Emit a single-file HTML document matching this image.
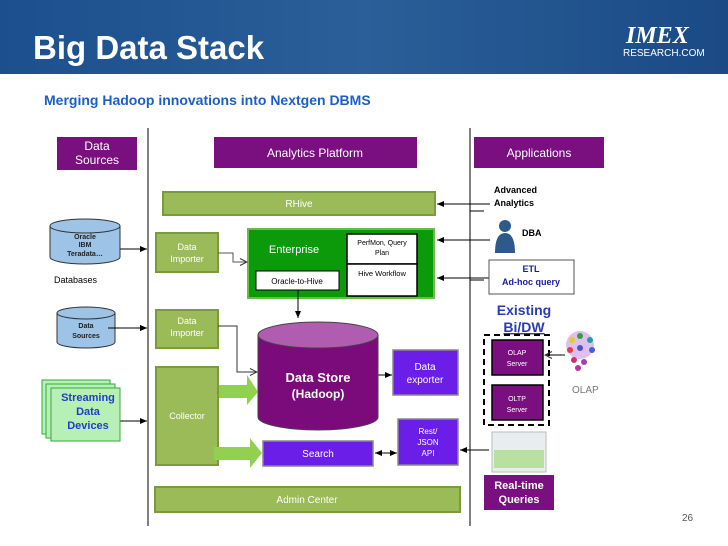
<!DOCTYPE html>
<html><head><meta charset="utf-8"><style>
body{margin:0;width:728px;height:546px;overflow:hidden;background:#fff}
svg{display:block}
text{font-family:"Liberation Sans",sans-serif}
</style></head><body>
<svg width="728" height="546" viewBox="0 0 728 546" xmlns="http://www.w3.org/2000/svg">
<defs>
<linearGradient id="hd" x1="0" x2="1" y1="0" y2="0">
<stop offset="0" stop-color="#1c4f8e"/><stop offset="0.5" stop-color="#2a5f98"/><stop offset="1" stop-color="#1b4a85"/></linearGradient>
<marker id="a" markerWidth="8" markerHeight="8" refX="7" refY="4" orient="auto"><path d="M0,1 L7,4 L0,7z" fill="#000"/></marker>
<marker id="o" markerWidth="9" markerHeight="9" refX="8" refY="4.5" orient="auto"><path d="M1,1 L8,4.5 L1,8" fill="none" stroke="#333"/></marker>
</defs>
<rect x="0" y="0" width="728" height="74" fill="url(#hd)"/>
<text x="33" y="59" font-size="33" font-weight="bold" fill="#fff">Big Data Stack</text>
<text x="626" y="43" font-size="24" font-weight="bold" font-style="italic" fill="#fff" style="font-family:'Liberation Serif',serif">IMEX</text>
<text x="623" y="56" font-size="10" fill="#fff">RESEARCH.COM</text>
<text x="44" y="105" font-size="14" font-weight="bold" fill="#1a5fc8">Merging Hadoop innovations into Nextgen DBMS</text>

<line x1="148" y1="128" x2="148" y2="526" stroke="#000"/>
<line x1="470" y1="128" x2="470" y2="526" stroke="#000"/>

<g font-size="12" fill="#fff" text-anchor="middle">
<rect x="57" y="137" width="80" height="33" fill="#7a0f7f"/>
<text x="97" y="150">Data</text><text x="97" y="164">Sources</text>
<rect x="214" y="137" width="203" height="31" fill="#7a0f7f"/>
<text x="315" y="157">Analytics Platform</text>
<rect x="474" y="137" width="130" height="31" fill="#7a0f7f"/>
<text x="539" y="157">Applications</text>
</g>

<g stroke="#7a9a3d" stroke-width="2" fill="#9bbb59">
<rect x="163" y="192" width="272" height="23"/>
<rect x="156" y="233" width="62" height="39"/>
<rect x="156" y="310" width="62" height="38"/>
<rect x="156" y="367" width="62" height="98"/>
<rect x="155" y="487" width="305" height="25"/>
</g>
<g font-size="9" fill="#fff" text-anchor="middle">
<text x="299" y="207" font-size="10">RHive</text>
<text x="187" y="250">Data</text><text x="187" y="262">Importer</text>
<text x="187" y="324">Data</text><text x="187" y="336">Importer</text>
<text x="187" y="419">Collector</text>
<text x="307" y="503" font-size="10">Admin Center</text>
</g>

<rect x="248" y="229" width="186" height="69" fill="#0a9a0a" stroke="#6cbb4a" stroke-width="2"/>
<text x="294" y="253" font-size="11" fill="#fff" text-anchor="middle">Enterprise</text>
<rect x="256" y="271" width="83" height="19" fill="#fff" stroke="#000"/>
<text x="297" y="284" font-size="8" text-anchor="middle">Oracle-to-Hive</text>
<rect x="347" y="234" width="70" height="30" fill="#fff" stroke="#000" stroke-width="1.5"/>
<rect x="347" y="264" width="70" height="32" fill="#fff" stroke="#000" stroke-width="1.5"/>
<text x="382" y="245" font-size="7" text-anchor="middle">PerfMon, Query</text>
<text x="382" y="255" font-size="7" text-anchor="middle">Plan</text>
<text x="382" y="276" font-size="7.5" text-anchor="middle">Hive Workflow</text>

<g stroke="#000" fill="none">
<line x1="490" y1="204" x2="437" y2="204" marker-end="url(#a)"/>
<line x1="490" y1="240" x2="437" y2="240" marker-end="url(#a)"/>
<line x1="490" y1="278" x2="437" y2="278" marker-end="url(#a)"/>
<line x1="298" y1="290" x2="298" y2="318" marker-end="url(#a)"/>
<path d="M218,253 H233 V262 H247" stroke="#555" marker-end="url(#o)"/>
<path d="M218,326 H237 V372 H257" stroke="#333" marker-end="url(#o)"/>
<line x1="378" y1="375" x2="392" y2="375" marker-end="url(#a)"/>
<line x1="386" y1="453" x2="375" y2="453" marker-end="url(#a)"/>
<line x1="385" y1="453" x2="397" y2="453" marker-end="url(#a)"/>
<line x1="480" y1="450" x2="460" y2="450" marker-end="url(#a)"/>
<line x1="120" y1="249" x2="147" y2="249" marker-end="url(#a)"/>
<line x1="108" y1="328" x2="147" y2="328" marker-end="url(#a)"/>
<line x1="120" y1="421" x2="147" y2="421" marker-end="url(#a)"/>
<line x1="470" y1="211" x2="484" y2="211"/>
<line x1="470" y1="280" x2="484" y2="280"/>
<line x1="470" y1="450" x2="489" y2="450"/>
</g>

<!-- Data store cylinder -->
<path d="M258,335 V417 A60,13 0 0 0 378,417 V335" fill="#7b0a7b" stroke="#444"/>
<ellipse cx="318" cy="335" rx="60" ry="13" fill="#b05cb0" stroke="#444"/>
<text x="318" y="382" font-size="13" font-weight="bold" fill="#fff" text-anchor="middle">Data Store</text>
<text x="318" y="398" font-size="12" font-weight="bold" fill="#fff" text-anchor="middle">(Hadoop)</text>

<!-- green fat arrows -->
<path d="M219,385 H247 V375 L258,392 L247,405 V398 H219z" fill="#92d050"/>
<path d="M214,447 H250 V438 L262,453 L250,468 V460 H214z" fill="#92d050"/>

<g fill="#6a1ee8" stroke="#888" stroke-width="1.5">
<rect x="263" y="441" width="110" height="25"/>
<rect x="393" y="350" width="65" height="45"/>
<rect x="398" y="419" width="60" height="46"/>
</g>
<g fill="#fff" text-anchor="middle">
<text x="318" y="457" font-size="10">Search</text>
<text x="425" y="370" font-size="10">Data</text><text x="425" y="383" font-size="10">exporter</text>
<text x="428" y="434" font-size="8">Rest/</text><text x="428" y="445" font-size="8">JSON</text><text x="428" y="456" font-size="8">API</text>
</g>

<!-- left cylinders -->
<path d="M50,226 V257 A35,7 0 0 0 120,257 V226" fill="#9dc3e6" stroke="#333"/>
<ellipse cx="85" cy="226" rx="35" ry="7" fill="#9dc3e6" stroke="#333"/>
<path d="M57,313 V342 A29,6 0 0 0 115,342 V313" fill="#9dc3e6" stroke="#333"/>
<ellipse cx="86" cy="313" rx="29" ry="6" fill="#9dc3e6" stroke="#333"/>
<line x1="108" y1="328" x2="147" y2="328" stroke="#000" marker-end="url(#a)"/>
<g font-size="7" font-weight="bold" text-anchor="middle" fill="#222">
<text x="85" y="239">Oracle</text><text x="85" y="247">IBM</text><text x="85" y="256">Teradata…</text>
<text x="86" y="328">Data</text><text x="86" y="338">Sources</text>
</g>
<text x="54" y="283" font-size="9">Databases</text>

<g fill="#b7f0b7" stroke="#3a3">
<rect x="42" y="380" width="68" height="54"/>
<rect x="46" y="384" width="69" height="54"/>
<rect x="51" y="388" width="69" height="53"/>
</g>
<g font-size="11" font-weight="bold" fill="#1f3ec8" text-anchor="middle">
<text x="88" y="401">Streaming</text><text x="88" y="415">Data</text><text x="88" y="429">Devices</text>
</g>

<!-- right -->
<g font-size="9" font-weight="bold" fill="#000">
<text x="494" y="193">Advanced</text><text x="494" y="206">Analytics</text>
<text x="522" y="236">DBA</text>
</g>
<circle cx="505" cy="226" r="6" fill="#2d5a8a"/>
<path d="M495,253 Q495,233 505,233 Q515,233 515,253z" fill="#2d5a8a"/>
<rect x="489" y="260" width="85" height="34" fill="#fff" stroke="#555"/>
<g font-size="9" font-weight="bold" fill="#1a1aa0" text-anchor="middle">
<text x="531" y="272">ETL</text><text x="531" y="285">Ad-hoc query</text>
</g>
<text x="524" y="315" font-size="14" font-weight="bold" fill="#2b3bb5" text-anchor="middle">Existing</text>
<text x="524" y="332" font-size="14" font-weight="bold" fill="#2b3bb5" text-anchor="middle" text-decoration="underline">Bi/DW</text>
<rect x="484" y="335" width="65" height="90" fill="none" stroke="#000" stroke-width="2" stroke-dasharray="6,4"/>
<rect x="492" y="340" width="51" height="35" fill="#7a0f7f" stroke="#000" stroke-width="1.5"/>
<rect x="492" y="385" width="51" height="35" fill="#7a0f7f" stroke="#000" stroke-width="1.5"/>
<g font-size="7" fill="#fff" text-anchor="middle">
<text x="517" y="355">OLAP</text><text x="517" y="366">Server</text>
<text x="517" y="401">OLTP</text><text x="517" y="412">Server</text>
</g>
<line x1="565" y1="355" x2="545" y2="355" stroke="#000" marker-end="url(#o)"/>
<g>
<circle cx="580" cy="345" r="14" fill="#c080e0" opacity="0.5"/>
<circle cx="572" cy="340" r="3" fill="#e0d020"/><circle cx="580" cy="336" r="3" fill="#30a040"/><circle cx="590" cy="340" r="3" fill="#20a0a0"/>
<circle cx="570" cy="350" r="3" fill="#e04040"/><circle cx="580" cy="348" r="3" fill="#5050d0"/><circle cx="592" cy="350" r="3" fill="#4060e0"/>
<circle cx="574" cy="360" r="3" fill="#d03070"/><circle cx="584" cy="362" r="3" fill="#a040c0"/><circle cx="578" cy="368" r="3" fill="#c030a0"/>
</g>
<text x="572" y="393" font-size="10" fill="#777">OLAP</text>
<rect x="492" y="432" width="54" height="40" fill="#e8eef0" stroke="#bbb"/>
<rect x="494" y="450" width="50" height="18" fill="#b8e0a0"/>
<rect x="484" y="475" width="70" height="35" fill="#7a0f7f"/>
<g font-size="11" font-weight="bold" fill="#fff" text-anchor="middle">
<text x="519" y="489">Real-time</text><text x="519" y="503">Queries</text>
</g>
<text x="682" y="521" font-size="10" fill="#555">26</text>
</svg>
</body></html>
